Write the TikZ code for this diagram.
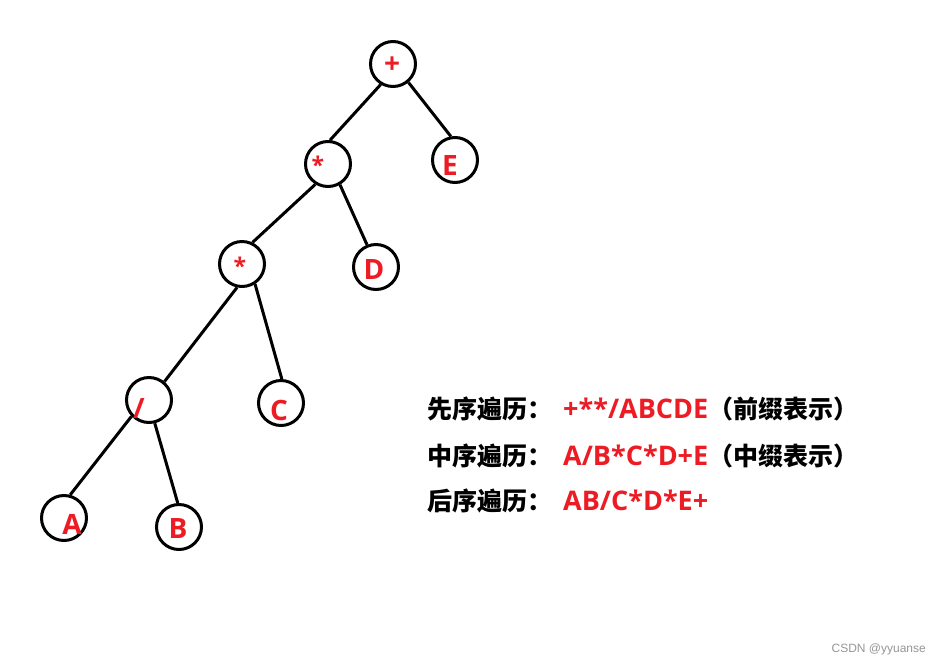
\documentclass[tikz,border=0pt]{standalone}
\usepackage{fontspec}
\setmainfont{Liberation Sans}
\newfontfamily\cjk{Noto Sans CJK SC}
\newfontfamily\lat{Open Sans}
\newfontfamily\wm{Liberation Sans}
\definecolor{tred}{RGB}{237,28,36}
\definecolor{wmgray}{RGB}{150,150,150}
\newcommand{\rd}[1]{\textcolor{tred}{\lat\bfseries\fontsize{27}{27}\selectfont #1}}
\begin{document}
\begin{tikzpicture}[x=1pt,y=-1pt,
  vert/.style={circle,draw=black,line width=3pt,minimum size=45pt,inner sep=0pt},
  lbl/.style={text=tred,font=\lat\bfseries\fontsize{28}{28}\selectfont,inner sep=0pt,text depth=0pt},
  slbl/.style={lbl,font=\lat\bfseries\fontsize{23}{23}\selectfont},
  edge/.style={line width=3pt,black},
  trav/.style={anchor=west,inner sep=0pt,font=\cjk\bfseries\fontsize{25}{25}\selectfont}]
\useasboundingbox (0,0) rectangle (941,667);
\fill[white] (0,0) rectangle (941,667);
% circles
\node[vert] (p)  at (393,64)  {};
\node[vert] (m1) at (328,164) {};
\node[vert] (e)  at (455,160) {};
\node[vert] (m2) at (242,264) {};
\node[vert] (d)  at (376,267) {};
\node[vert] (dv) at (149,400) {};
\node[vert] (c)  at (281,403) {};
\node[vert] (a)  at (64,518)  {};
\node[vert] (b)  at (179,527) {};
% labels
\node[lbl] (tp)  at (392,65)  {+};
\node[slbl] (tm1) at (318,165) {*};
\node[lbl] (te)  at (450,166) {E};
\node[slbl] (tm2) at (240,266) {*};
\node[lbl] (td)  at (374,269) {D};
\node[lbl] (tdv) at (139,408) {/};
\node[lbl] (tc)  at (279,410) {C};
\node[lbl] (ta)  at (72,524)  {A};
\node[lbl] (tb)  at (178,528) {B};
% edges
\draw[edge] (p.239) -- (m1.85);
\draw[edge] (p.310) -- (e.100);
\draw[edge] (m1.238) -- (m2.64);
\draw[edge] (m1.300) -- (d.112);
\draw[edge] (m2.258) -- (dv.50);
\draw[edge] (m2.303) -- (c.88);
\draw[edge] (dv.223) -- (a.75);
\draw[edge] (dv.284) -- (b.93);
% traversal text
\node[trav] (l1) at (427,409) {先序遍历：\hspace{11pt}\rd{+**/ABCDE}（前缀表示）};
\node[trav] (l2) at (427,456) {中序遍历：\hspace{11pt}\rd{A/B*C*D+E}（中缀表示）};
\node[trav] (l3) at (427,501) {后序遍历：\hspace{11pt}\rd{AB/C*D*E+}};
% watermark
\node[anchor=east,inner sep=0pt,text=wmgray,font=\wm\fontsize{12}{12}\selectfont] (w) at (926,649) {CSDN @yyuanse};
\end{tikzpicture}
\end{document}
